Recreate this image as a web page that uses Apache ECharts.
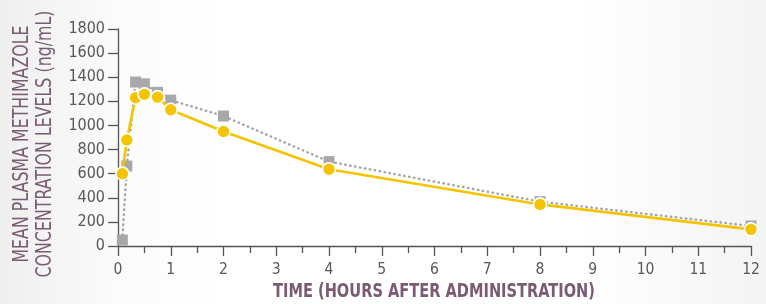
<!DOCTYPE html>
<html><head><meta charset="utf-8">
<script src="https://cdn.jsdelivr.net/npm/echarts@6/dist/echarts.min.js"></script>
<style>
html,body{margin:0;padding:0;}
body{width:766px;height:304px;background:linear-gradient(to right,#efefef 0%,#fbfbfb 15%,#ffffff 30%,#ffffff 75%,#f4f4f4 100%);}
#c{width:766px;height:304px;}
</style></head><body><div id="c"></div>
<script>
const times = [0.083, 0.167, 0.333, 0.5, 0.75, 1, 2, 4, 8, 12];
const yellowValues = [600, 880, 1230, 1258, 1235, 1130, 950, 637, 345, 138];
const grayValues = [50, 663, 1360, 1345, 1275, 1210, 1078, 700, 368, 166];
const yTicks = [0, 200, 400, 600, 800, 1000, 1200, 1400, 1600, 1800];
const xTicks = [0,1,2,3,4,5,6,7,8,9,10,11,12];
const yTitle = ['MEAN PLASMA METHIMAZOLE', 'CONCENTRATION LEVELS (ng/mL)'];
const xTitle = 'TIME (HOURS AFTER ADMINISTRATION)';

const font = '"DejaVu Sans Condensed","Liberation Sans Narrow",sans-serif';
const yTitleFont = '22px ' + font;
const xTitleFont = 'bold 19px ' + font;
const mctx = document.createElement('canvas').getContext('2d');
function textWidth(t, f){ mctx.font = f; return mctx.measureText(t).width; }
const yScale = 267 / textWidth(yTitle[1], yTitleFont);
const xScale = 322 / textWidth(xTitle, xTitleFont);

const chart = echarts.init(document.getElementById('c'), null, {renderer:'canvas'});
const pair = arr => times.map((t,i)=>[t, arr[i]]);
chart.setOption({
  animation:false,
  grid:{left:118, right:15, top:29, bottom:58, containLabel:false},
  xAxis:{type:'value', min:xTicks[0], max:xTicks[xTicks.length-1], interval:1,
    axisLine:{show:true, onZero:false, lineStyle:{color:'#555', width:1.3}},
    axisTick:{show:true, length:10, lineStyle:{color:'#555', width:1.3}},
    minorTick:{show:true, splitNumber:2, length:7, lineStyle:{color:'#555', width:1.3}},
    splitLine:{show:false},
    axisLabel:{margin:16, fontSize:15.5, color:'#58585a', fontFamily:font, formatter:v=>String(v)}
  },
  yAxis:{type:'value', min:yTicks[0], max:yTicks[yTicks.length-1], interval:200,
    axisLine:{show:true, lineStyle:{color:'#555', width:1.3}},
    axisTick:{show:true, length:10, lineStyle:{color:'#555', width:1.3}},
    splitLine:{show:false},
    axisLabel:{margin:13, fontSize:16, color:'#58585a', fontFamily:font, formatter:v=>String(v)}
  },
  graphic:[
    {type:'text', x:34, y:144, rotation:Math.PI/2, scaleX:yScale,
     style:{text:yTitle.join('\n'), fill:'#7b5b74', font:yTitleFont, align:'center', verticalAlign:'middle', lineHeight:23}},
    {type:'text', x:434, y:292, scaleX:xScale,
     style:{text:xTitle, fill:'#7b5b74', font:xTitleFont, align:'center', verticalAlign:'middle'}}
  ],
  series:[
    {type:'line', data:pair(grayValues), symbol:'rect', symbolSize:11, z:2,
     lineStyle:{color:'#a3a3a8', width:2.4, type:[0.5,4.5], cap:'round'},
     itemStyle:{color:'#a8a8ac', borderColor:'#a8a8ac', borderWidth:0}},
    {type:'line', data:pair(yellowValues), symbol:'circle', symbolSize:13, z:3,
     lineStyle:{color:'#f4c400', width:2.6},
     itemStyle:{color:'#f4c400', borderColor:'#ffffff', borderWidth:1.6}}
  ]
});
</script></body></html>
